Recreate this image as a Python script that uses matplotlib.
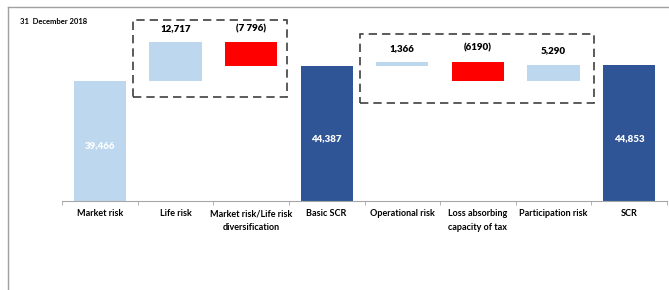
import matplotlib
matplotlib.use("Agg")
import matplotlib.pyplot as plt
from matplotlib.patches import Rectangle
from matplotlib.lines import Line2D

# waterfall data (SCR breakdown, 31 December 2018)
categories = ["Market risk", "Life risk", "Market risk/Life risk\ndiversification", "Basic SCR",
              "Operational risk", "Loss absorbing\ncapacity of tax", "Participation risk", "SCR"]
values = [39466, 12717, -7796, 44387, 1366, -6190, 5290, 44853]
is_total = [True, False, False, True, False, False, False, True]
labels = ["39,466", "12,717", "(7 796)", "44,387", "1,366", "(6190)", "5,290", "44,853"]

light = "#BDD7EE"
red = "#FF0000"
dark = "#2F5597"

plt.rcParams['font.family'] = ['Lato', 'DejaVu Sans']

fig = plt.figure(figsize=(6.69, 2.90), dpi=100)
ax = fig.add_axes([62 / 669, 89 / 290, 605 / 669, 194 / 290])

running = 0
for i, v in enumerate(values):
    if is_total[i]:
        bottom, height = 0, v
        running = v
        color = dark if i > 0 else light
    else:
        if v >= 0:
            bottom, height = running, v
            color = light
        else:
            bottom, height = running + v, -v
            color = red
        running += v
    ax.bar(i, height, bottom=bottom, width=0.69, color=color)
    if is_total[i]:
        ax.text(i, v * 0.46, labels[i], ha="center", va="center", color="white",
                fontsize=7, fontweight="heavy")
    else:
        ax.text(i, bottom + height + 3000, labels[i], ha="center", va="bottom",
                fontsize=7, fontweight="heavy", color="black")

ax.set_xlim(-0.5, len(values) - 0.5)
ax.set_ylim(0, 63800)

for s in ["top", "right", "left"]:
    ax.spines[s].set_visible(False)
ax.spines["bottom"].set_color("#A6A6A6")
ax.set_yticks([])
ax.set_xticks(range(len(categories)))
ax.set_xticklabels(categories, fontsize=6.5, fontweight="bold", linespacing=1.6)
ax.tick_params(axis="x", which="major", length=0, pad=6)
ax.set_xticks([i - 0.5 for i in range(len(categories) + 1)], minor=True)
ax.tick_params(axis="x", which="minor", length=3, color="#A6A6A6", direction="out")

# dashed boxes around the two groups of movements
for x0, x1, y0, y1 in [(0.44, 2.48, 34200, 59500), (3.44, 6.54, 32200, 54900)]:
    ax.add_patch(Rectangle((x0, y0), x1 - x0, y1 - y0, fill=False, edgecolor="#404040",
                           linestyle=(0, (5, 3)), linewidth=1.2, clip_on=False))

fig.text(20 / 669, 1 - 21 / 290, "31  December 2018", fontsize=5.5, fontweight="bold",
         va="center", ha="left")

# outer frame (top and left edges)
fig.add_artist(Line2D([8 / 669, 1], [1 - 7 / 290, 1 - 7 / 290], color="#A0A0A0", linewidth=1))
fig.add_artist(Line2D([8 / 669, 8 / 669], [0, 1 - 7 / 290], color="#A0A0A0", linewidth=1))

fig.savefig("out.png", dpi=100)
